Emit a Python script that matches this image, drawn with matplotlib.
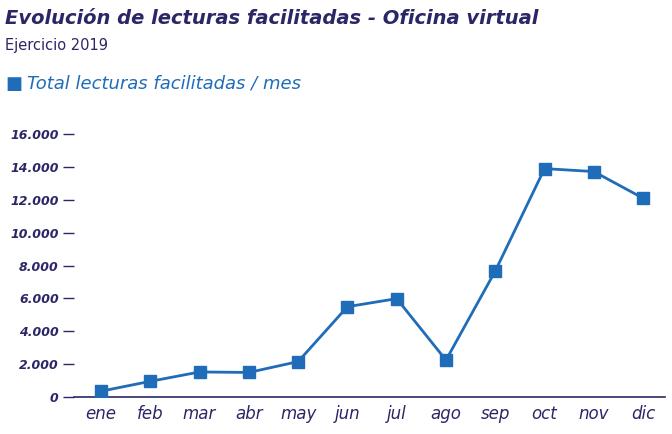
import matplotlib
matplotlib.use("Agg")
import matplotlib.pyplot as plt

months = ["ene", "feb", "mar", "abr", "may", "jun", "jul", "ago", "sep", "oct", "nov", "dic"]
lecturas = [360, 960, 1530, 1500, 2160, 5500, 5990, 2250, 7670, 13900, 13720, 12100]
yticks = [0, 2000, 4000, 6000, 8000, 10000, 12000, 14000, 16000]
ytick_labels = ["0", "2.000", "4.000", "6.000", "8.000", "10.000", "12.000", "14.000", "16.000"]

navy = "#2b2766"
blue = "#1f6cb8"

fig = plt.figure(figsize=(6.72, 4.34), dpi=100)
ax = fig.add_axes([0.11, 0.085, 0.88, 0.625])
x = range(len(months))
ax.plot(x, lecturas, color=blue, lw=2, marker="s", ms=9, zorder=3)

ax.set_xlim(-0.55, len(months) - 0.55)
ax.set_ylim(0, 16500)
ax.set_yticks(yticks)
ax.set_yticklabels(ytick_labels, fontsize=9, fontweight="bold", style="italic", color=navy)
ax.set_xticks(list(x))
ax.set_xticklabels(months, fontsize=12, style="italic", color=navy)
for s in ["top", "right", "left"]:
    ax.spines[s].set_visible(False)
ax.spines["bottom"].set_color(navy)
ax.spines["bottom"].set_linewidth(1.2)
ax.tick_params(axis="y", length=8, width=1, color=navy, pad=3)
ax.tick_params(axis="x", length=0, pad=6)

fig.text(0.008, 0.945, "Evolución de lecturas facilitadas - Oficina virtual",
         fontsize=14, style="italic", fontweight="bold", color=navy)
fig.text(0.008, 0.885, "Ejercicio 2019", fontsize=10.5, color=navy)
fig.text(0.008, 0.795, "\u25A0", fontsize=13, color=blue)
fig.text(0.04, 0.795, "Total lecturas facilitadas / mes", fontsize=13, style="italic", color=blue)

fig.savefig("out.png")
